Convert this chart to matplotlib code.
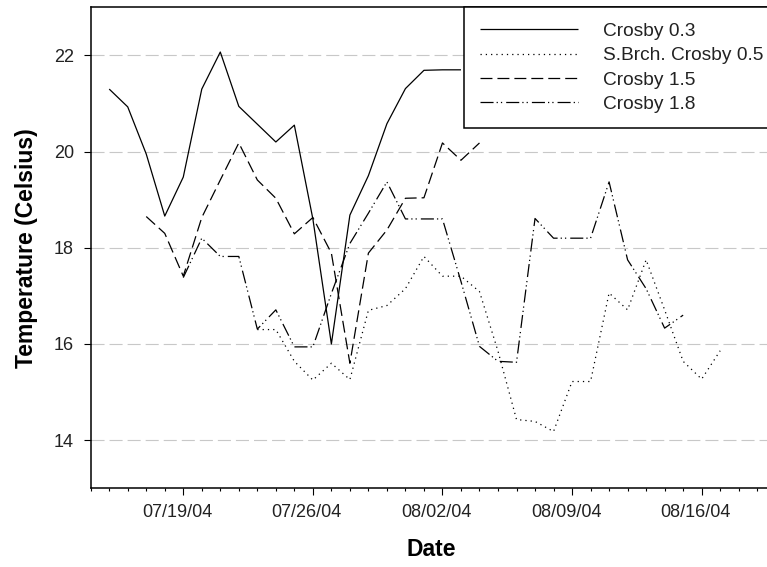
import matplotlib
matplotlib.use('Agg')
import matplotlib.pyplot as plt
import matplotlib.dates as mdates
import matplotlib.transforms as mtransforms
import pandas as pd

plt.rcParams['font.family'] = ['Liberation Sans', 'DejaVu Sans']
plt.rcParams['lines.scale_dashes'] = False

# ---------------- data ----------------
series_names = ['Crosby 0.3', 'S.Brch. Crosby 0.5', 'Crosby 1.5', 'Crosby 1.8']

crosby03_start = '2004-07-15'
crosby03_vals = [21.3, 20.93, 19.95, 18.66, 19.47, 21.3, 22.07, 20.94, 20.57, 20.2,
                 20.55, 18.6, 16.0, 18.68, 19.5, 20.58, 21.31, 21.69, 21.7, 21.7]

sbrch05_start = '2004-07-23'
sbrch05_vals = [16.3, 16.3, 15.64, 15.25, 15.6, 15.26, 16.7, 16.8, 17.15, 17.82,
                17.41, 17.41, 17.09, 15.85, 14.43, 14.39, 14.18, 15.22, 15.22, 17.06,
                16.71, 17.75, 16.71, 15.64, 15.27, 15.86]

crosby15_start = '2004-07-17'
crosby15_vals = [18.65, 18.3, 17.41, 18.63, 19.41, 20.18, 19.41, 19.03, 18.29, 18.63,
                 17.89, 15.6, 17.89, 18.37, 19.03, 19.04, 20.18, 19.82, 20.18]

crosby18_start = '2004-07-19'
crosby18_vals = [17.38, 18.2, 17.82, 17.82, 16.31, 16.71, 15.94, 15.94, 17.05, 18.09,
                 18.72, 19.37, 18.6, 18.6, 18.6, 17.3, 15.95, 15.64, 15.62, 18.61,
                 18.2, 18.2, 18.2, 19.37, 17.75, 17.15, 16.33, 16.6]

y_ticks = [14, 16, 18, 20, 22]
x_start = pd.Timestamp('2004-07-14')
x_span_days = 36.53

# ---------------- figure ----------------
W, H = 767, 567
fig = plt.figure(figsize=(W / 100, H / 100), dpi=100)
left_px, right_px, top_px, bot_px = 90.7, 767.0, 7.3, 488.3
ax = fig.add_axes([left_px / W, 1 - bot_px / H, (right_px - left_px) / W, (bot_px - top_px) / H])

styles = ['-', (0, (0.9, 2.9)), (0, (8.6, 3.6)), (0, (9.4, 2.2, 0.9, 2.2, 0.9, 2.9))]
starts = [crosby03_start, sbrch05_start, crosby15_start, crosby18_start]
values = [crosby03_vals, sbrch05_vals, crosby15_vals, crosby18_vals]

for name, st, vals, ls in zip(series_names, starts, values, styles):
    dates = pd.date_range(st, periods=len(vals), freq='D')
    ax.plot(dates, vals, color='black', lw=0.9, linestyle=ls, label=name,
            solid_capstyle='butt', dash_capstyle='butt')

ax.set_ylim(13, 23)
ax.set_xlim(x_start, x_start + pd.Timedelta(days=x_span_days))

ax.set_yticks(y_ticks)
ax.yaxis.grid(True, color='#c8c8c8', lw=0.8, linestyle=(0, (9.4, 3.6)))
ax.set_axisbelow(True)

ax.xaxis.set_major_locator(mdates.WeekdayLocator(byweekday=mdates.MO))
ax.xaxis.set_major_formatter(mdates.DateFormatter('%m/%d/%y'))
ax.xaxis.set_minor_locator(mdates.DayLocator())

ax.tick_params(axis='both', which='major', direction='out', length=5, width=0.8,
               color='black', labelsize=13, labelcolor='#222222')
ax.tick_params(axis='x', which='minor', direction='out', length=2.5, width=0.8, color='black')
ax.tick_params(axis='x', which='major', pad=6)
ax.tick_params(axis='y', which='major', pad=7)

for side in ['left', 'bottom', 'top']:
    ax.spines[side].set_linewidth(1.1)
    ax.spines[side].set_color('black')
ax.spines['right'].set_visible(False)

ax.set_xlabel('Date', fontsize=16.5, fontweight='bold', va='center')
ax.xaxis.set_label_coords(0.504, -0.128)
ax.set_ylabel('Temperature (Celsius)', fontsize=16.5, fontweight='bold', va='center')
ax.yaxis.set_label_coords(-0.0947, 0.5)

# legend box runs past the right edge of the picture, as in the reference
leg_h = 0.3
leg = ax.legend(loc='upper left',
                bbox_to_anchor=(464.3 / W, 1 - 7.3 / H - leg_h, 340 / W, leg_h),
                bbox_transform=fig.transFigure, mode='expand', borderaxespad=0,
                frameon=True, fancybox=False, edgecolor='black', framealpha=1,
                fontsize=13.8, handlelength=5.15, handletextpad=1.3, borderpad=0.8,
                labelspacing=0.36)
leg.get_frame().set_linewidth(1.1)
for t in leg.get_texts():
    t.set_color('#222222')

# shift date labels slightly left like the reference
fig.canvas.draw()
offset = mtransforms.ScaledTranslation(-6 / 100, 0, fig.dpi_scale_trans)
for lab in ax.xaxis.get_majorticklabels():
    lab.set_transform(lab.get_transform() + offset)

fig.savefig('out.png', dpi=100, facecolor='white')
